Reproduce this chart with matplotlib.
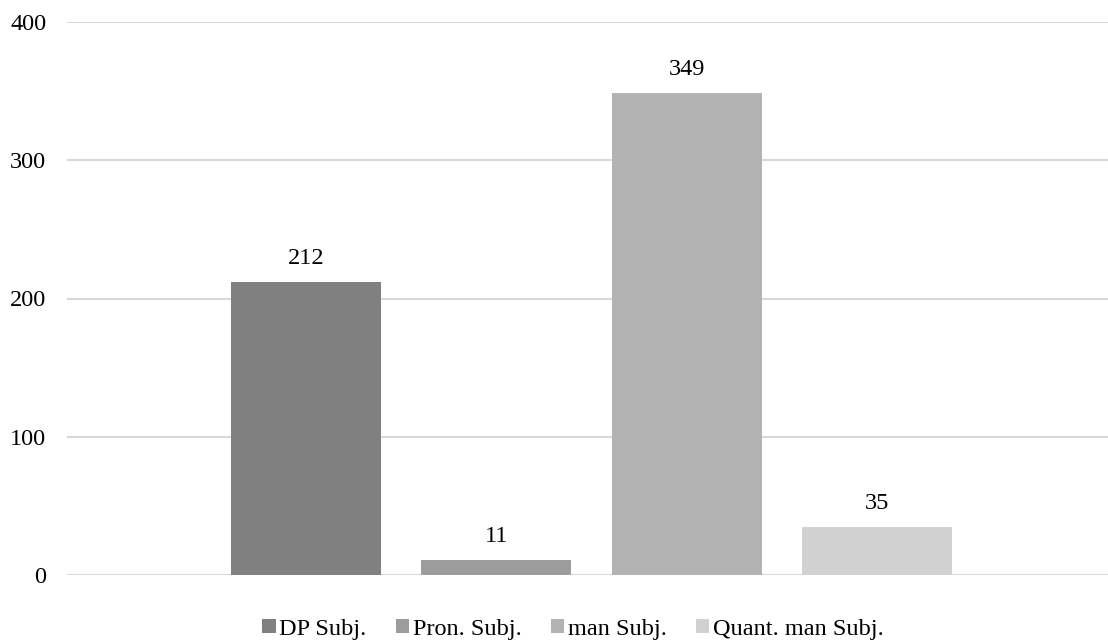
import matplotlib
matplotlib.use("Agg")
import matplotlib.pyplot as plt
import numpy as np

series = ["DP Subj.", "Pron. Subj.", "man Subj.", "Quant. man Subj."]
values = [212, 11, 349, 35]
colors = ["#808080", "#9c9c9c", "#b3b3b3", "#d1d1d1"]
yticks = [0, 100, 200, 300, 400]

plt.rcParams["font.family"] = ["Liberation Serif", "DejaVu Serif"]
FS = 17.5

W, H = 1108, 640
fig = plt.figure(figsize=(W / 100, H / 100), dpi=100)
ax = fig.add_axes([67 / W, (H - 575) / H, (W - 67) / W, (575 - 22) / H])

bar_w = 0.144
step = 0.183
offsets = (np.arange(len(series)) - (len(series) - 1) / 2) * step
for off, v, c, name in zip(offsets, values, colors, series):
    ax.bar(off, v, width=bar_w, color=c, label=name, zorder=3)
    ax.annotate(f"{v}", (off, v), xytext=(0, 9), textcoords="offset points",
                ha="center", va="bottom", fontsize=FS, color="#000000")

ax.set_xlim(-0.504, 0.496)
ax.set_ylim(0, 400)
ax.set_yticks(yticks)
ax.set_xticks([])
ax.tick_params(axis="y", length=0, pad=15, labelsize=FS, labelcolor="#000000")
ax.grid(axis="y", color="#d9d9d9", linewidth=1.5, zorder=0)
for s in ax.spines.values():
    s.set_visible(False)

leg = fig.legend(loc="center", bbox_to_anchor=(573 / W, (H - 629) / H),
                 ncol=4, frameon=False, fontsize=FS, handlelength=0.55,
                 handleheight=0.55, handletextpad=0.15, columnspacing=1.2,
                 borderaxespad=0, borderpad=0)

fig.savefig("out.png", dpi=100, facecolor="white")
